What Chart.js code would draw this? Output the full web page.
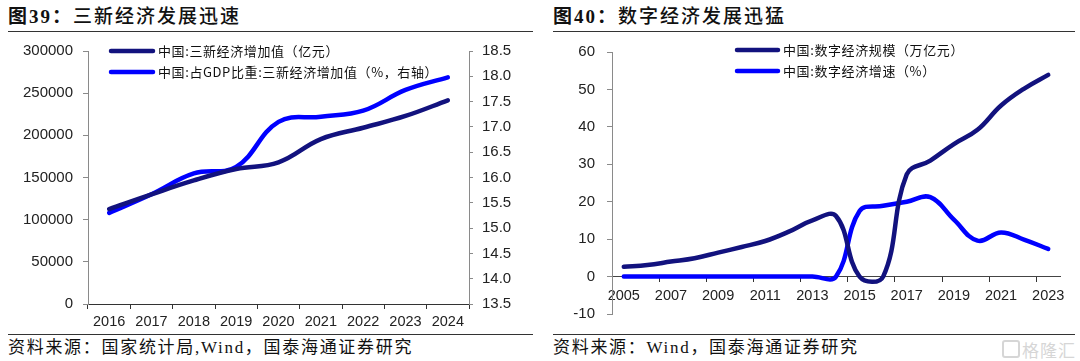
<!DOCTYPE html>
<html><head><meta charset="utf-8">
<script src="https://cdn.jsdelivr.net/npm/chart.js@4.4.1/dist/chart.umd.min.js"></script>
<style>
html,body{margin:0;padding:0;}
body{width:1080px;height:361px;background:#fff;position:relative;overflow:hidden;font-family:"Liberation Serif","Noto Sans CJK SC",serif;color:#111;}
.title{position:absolute;top:4px;line-height:26px;font-size:19px;letter-spacing:2px;font-weight:500;white-space:nowrap;}
.title b{font-weight:bold;}
.hr{position:absolute;height:0;border-top:1.5px solid #333;}
.foot{position:absolute;top:336px;line-height:24px;font-size:17px;letter-spacing:1.7px;white-space:nowrap;}
canvas{position:absolute;top:0;}
.wm{position:absolute;left:1022px;top:337px;font-family:"Noto Sans CJK SC";font-size:17px;color:#d6d6d6;letter-spacing:1px;}
.wmi{position:absolute;left:1002px;top:340px;width:14px;height:14px;border:2px solid #d6d6d6;border-radius:3px;}
</style></head>
<body>
<div class="title" style="left:8px"><b>图39：</b>三新经济发展迅速</div>
<div class="hr" style="left:8px;top:31px;width:525px"></div>
<div class="title" style="left:553px"><b>图40：</b>数字经济发展迅猛</div>
<div class="hr" style="left:553px;top:31px;width:522px"></div>

<canvas id="c1" width="540" height="330" style="left:0"></canvas>
<canvas id="c2" width="540" height="330" style="left:540px"></canvas>

<div class="hr" style="left:8px;top:334px;width:525px"></div>
<div class="hr" style="left:553px;top:334px;width:522px"></div>
<div class="foot" style="left:8px">资料来源：国家统计局,Wind，国泰海通证券研究</div>
<div class="foot" style="left:553px">资料来源：Wind，国泰海通证券研究</div>
<div class="wmi"></div><div class="wm">格隆汇</div>

<script>
// ---------- data ----------
const years1 = ['2016','2017','2018','2019','2020','2021','2022','2023','2024'];
const newEconValue = [112600, 130000, 146500, 160000, 168000, 195500, 209000, 223000, 241500];
const newEconShare = [15.3, 15.67, 16.08, 16.21, 17.1, 17.2, 17.32, 17.73, 17.98];
const newEconLabels = ['中国:三新经济增加值（亿元）', '中国:占GDP比重:三新经济增加值（%，右轴）'];

const years2 = ['2005','2006','2007','2008','2009','2010','2011','2012','2013','2014','2015','2016','2017','2018','2019','2020','2021','2022','2023'];
const digitalScale = [2.6, 3.1, 4.0, 4.9, 6.4, 7.9, 9.5, 12.0, 15.0, 16.2, 0, 0, 27.3, 31.0, 35.4, 39.2, 45.7, 50.3, 53.9];
const digitalGrowth = [0, 0, 0, 0, 0, 0, 0, 0, 0, 0, 17.5, 18.9, 20.0, 21.2, 15.2, 9.6, 11.8, 9.8, 7.4];
const digitalLabels = ['中国:数字经济规模（万亿元）', '中国:数字经济增速（%）'];

const DARK = '#12127e';
const BLUE = '#0000ff';
const AXIS = '#8a8a8a';
const TXT = '#222';
const tickFont = {family:'"Liberation Sans", Arial, sans-serif', size:15};

const legendPlugin = {
  id:'customLegend',
  afterDraw(chart, args, opts){
    const ctx = chart.ctx;
    ctx.save();
    chart.data.datasets.forEach((ds,i)=>{
      const y = opts.y + i*opts.gap;
      ctx.strokeStyle = ds.borderColor; ctx.lineWidth = 4.5; ctx.lineCap = 'round';
      ctx.beginPath(); ctx.moveTo(opts.x, y); ctx.lineTo(opts.x+opts.len, y); ctx.stroke();
      ctx.fillStyle = '#111'; ctx.font = '13px "Noto Sans CJK SC"'; ctx.textBaseline = 'middle';
      if ('letterSpacing' in ctx) ctx.letterSpacing = '0.6px';
      ctx.fillText(ds.label, opts.x+opts.len+5, y+0.5);
    });
    ctx.restore();
  }
};

const lineDs = (label, data, color, axis) => ({
  label, data, borderColor: color, backgroundColor: color, borderWidth: 4.5,
  pointRadius: 0, tension: 0.4, fill: false, yAxisID: axis, borderCapStyle: 'round'
});

new Chart(document.getElementById('c1'), {
  type:'line',
  data:{ labels: years1, datasets:[
    lineDs(newEconLabels[0], newEconValue, DARK, 'y'),
    lineDs(newEconLabels[1], newEconShare, BLUE, 'y1')
  ]},
  options:{
    responsive:false, animation:false,
    layout:{padding:{top:51, left:0, right:0, bottom:0}},
    plugins:{legend:{display:false}, tooltip:{enabled:false},
      customLegend:{x:111, y:51, gap:21, len:42}},
    scales:{
      x:{ offset:true,
        grid:{offset:true, drawOnChartArea:false, tickLength:5, color:'#333'},
        border:{color:'#333', width:1},
        ticks:{color:TXT, font:{family:tickFont.family, size:14.5}, padding:4, maxRotation:0, autoSkip:false},
        afterFit(s){ s.height = 26; } },
      y:{ position:'left', min:0, max:300000,
        grid:{drawOnChartArea:false, tickLength:5, color:AXIS},
        border:{color:AXIS, width:1},
        ticks:{stepSize:50000, color:TXT, font:tickFont, padding:10, callback:v=>String(v)},
        afterFit(s){ s.width = 88; } },
      y1:{ position:'right', min:13.5, max:18.5,
        grid:{drawOnChartArea:false, tickLength:4, color:AXIS},
        border:{color:AXIS, width:1},
        ticks:{stepSize:0.5, color:TXT, font:tickFont, padding:9, callback:v=>Number(v).toFixed(1)},
        afterFit(s){ s.width = 71; } }
    }
  },
  plugins:[legendPlugin]
});

new Chart(document.getElementById('c2'), {
  type:'line',
  data:{ labels: years2, datasets:[
    lineDs(digitalLabels[0], digitalScale, DARK, 'y'),
    lineDs(digitalLabels[1], digitalGrowth, BLUE, 'y')
  ]},
  options:{
    responsive:false, animation:false,
    layout:{padding:{top:52, left:0, right:20, bottom:16}},
    plugins:{legend:{display:false}, tooltip:{enabled:false},
      customLegend:{x:197, y:50, gap:21, len:41}},
    scales:{
      x:{ position:{y:0}, offset:true,
        grid:{offset:true, drawOnChartArea:false, tickLength:5,
          color:(c)=> (c.index % 2 === 0 ? '#333' : 'rgba(0,0,0,0)')},
        border:{color:'#444', width:1},
        ticks:{color:TXT, font:{family:tickFont.family, size:14.5}, padding:6, maxRotation:0, autoSkip:false,
          callback:(v,i)=> (i % 2 === 0 ? years2[i] : '')},
        afterFit(s){ s.height = 0; } },
      y:{ position:'left', min:-10, max:60,
        grid:{drawOnChartArea:false, tickLength:5, color:AXIS},
        border:{color:AXIS, width:1},
        ticks:{stepSize:10, color:TXT, font:tickFont, padding:12, callback:v=>String(v)},
        afterFit(s){ s.width = 72; s.paddingTop = 0; s.paddingBottom = 0; } }
    }
  },
  plugins:[legendPlugin]
});
</script>
</body></html>
